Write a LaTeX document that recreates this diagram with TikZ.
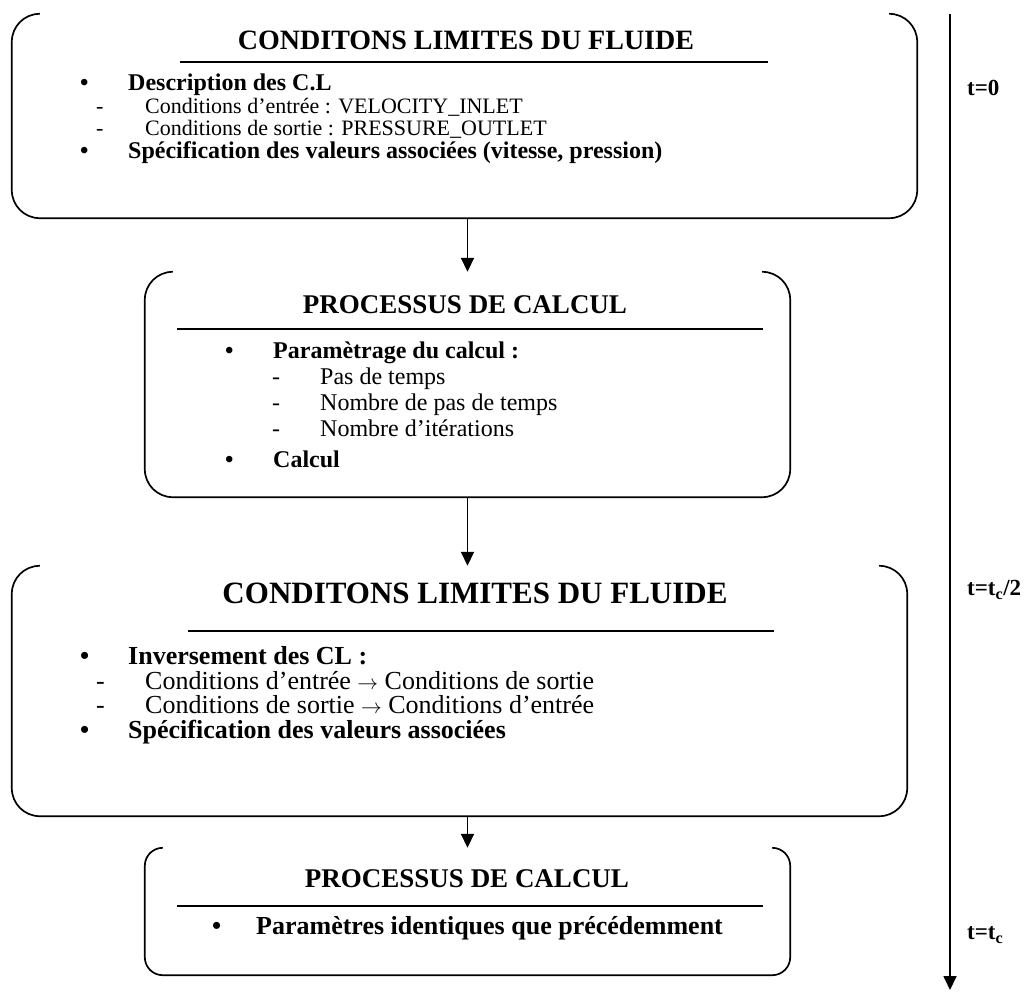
\documentclass[tikz,border=0pt]{standalone}
\usepackage{fontspec}
\setmainfont{Liberation Serif}
\usetikzlibrary{arrows.meta, positioning}

\newcommand{\bracketbox}[2]{%
  \draw[boxline, rounded corners=#2] ([xshift=#2]#1.north west) -- (#1.north west)
    -- (#1.south west) -- (#1.south east) -- (#1.north east) -- ([xshift=-#2]#1.north east);}
\newcommand{\fleche}{{\fontsize{20}{20}\selectfont$\rightarrow$}}

\begin{document}
\begin{tikzpicture}[x=1pt, y=-1pt,
    frame/.style={draw=none, inner sep=0pt, minimum width=#1},
    boxline/.style={line width=1.7pt},
    rule/.style={line width=1.7pt},
    flow/.style={line width=1.7pt, -{Triangle[length=14pt, width=13pt]}},
    ttl/.style={inner sep=0pt, font=\fontsize{#1}{#1}\selectfont\bfseries},
    itm/.style={anchor=west, inner sep=0pt, text height=0.62em, text depth=0.16em,
        font=\fontsize{#1}{#1}\selectfont\bfseries},
    sub/.style={anchor=west, inner sep=0pt, text height=0.62em, text depth=0.16em,
        font=\fontsize{#1}{#1}\selectfont},
    tlab/.style={anchor=west, inner sep=0pt, font=\fontsize{23}{23}\selectfont\bfseries}
]
    \useasboundingbox (0,0) rectangle (1035,992);

    % boites
    \node[frame=905pt, minimum height=204pt] (cl1) at (464.5,116) {};
    \node[frame=645pt, minimum height=225pt] (pc1) at (467.5,384.5) {};
    \node[frame=895pt, minimum height=250pt] (cl2) at (459.5,691) {};
    \node[frame=645pt, minimum height=127pt] (pc2) at (467.5,911.5) {};
    \bracketbox{cl1}{28pt}
    \bracketbox{pc1}{28pt}
    \bracketbox{cl2}{28pt}
    \bracketbox{pc2}{18pt}

    % conditions limites (1)
    \node[ttl=28] (cl1t) at (466,40) {CONDITONS LIMITES DU FLUIDE};
    \draw[rule] (180,62) -- (768,62);
    \node[itm=24] (cl1b1) at (80,88) {•};
    \node[itm=24] (cl1a) at (128,88) {Description des C.L};
    \node[sub=22] (cl1d1) at (96,111) {-};
    \node[sub=22] (cl1c) at (145,111) {Conditions d’entrée : VELOCITY\_INLET};
    \node[sub=22] (cl1d2) at (96,133) {-};
    \node[sub=22] (cl1e) at (145,133) {Conditions de sortie : PRESSURE\_OUTLET};
    \node[itm=24] (cl1b2) at (80,156) {•};
    \node[itm=24] (cl1f) at (128,156) {Spécification des valeurs associées (vitesse, pression)};

    % processus de calcul (1)
    \node[ttl=27] (pc1t) at (465,305) {PROCESSUS DE CALCUL};
    \draw[rule] (177,329) -- (763,329);
    \node[itm=24] (pc1b1) at (225,356) {•};
    \node[itm=24] (pc1a) at (273,356) {Paramètrage du calcul :};
    \node[sub=24] (pc1d1) at (272,382) {-};
    \node[sub=24] (pc1c) at (320,382) {Pas de temps};
    \node[sub=24] (pc1d2) at (272,408) {-};
    \node[sub=24] (pc1e) at (320,408) {Nombre de pas de temps};
    \node[sub=24] (pc1d3) at (272,434) {-};
    \node[sub=24] (pc1f) at (320,434) {Nombre d’itérations};
    \node[itm=24] (pc1b2) at (225,465) {•};
    \node[itm=24] (pc1g) at (273,465) {Calcul};

    % conditions limites (2)
    \node[ttl=31] (cl2t) at (475,593) {CONDITONS LIMITES DU FLUIDE};
    \draw[rule] (188,631) -- (774,631);
    \node[itm=26] (cl2b1) at (80,662) {•};
    \node[itm=26] (cl2a) at (128,662) {Inversement des CL :};
    \node[sub=26] (cl2d1) at (96,687) {-};
    \node[sub=26] (cl2c) at (145,687) {Conditions d’entrée \fleche{} Conditions de sortie};
    \node[sub=26] (cl2d2) at (96,711) {-};
    \node[sub=26] (cl2e) at (145,711) {Conditions de sortie \fleche{} Conditions d’entrée};
    \node[itm=26] (cl2b2) at (80,736) {•};
    \node[itm=26] (cl2f) at (128,736) {Spécification des valeurs associées};

    % processus de calcul (2)
    \node[ttl=27] (pc2t) at (467,879) {PROCESSUS DE CALCUL};
    \draw[rule] (177,906) -- (763,906);
    \node[itm=26] (pc2b1) at (212,932) {•};
    \node[itm=26] (pc2a) at (256,932) {Paramètres identiques que précédemment};

    % enchainement
    \draw[flow] (pc1.north |- cl1.south) -- (pc1.north);
    \draw[flow] (pc1.south) -- (pc1.south |- cl2.north);
    \draw[flow] (pc2.north |- cl2.south) -- (pc2.north);

    % axe du temps
    \coordinate (tdeb) at (950,14);
    \coordinate (tfin) at (950,990);
    \draw[flow] (tdeb) -- (tfin);
    \node[tlab] (t0) at (967,88) {t=0};
    \node[tlab] (t1) at (967,590) {t=t\textsubscript{c}/2};
    \node[tlab] (t2) at (967,935) {t=t\textsubscript{c}};
\end{tikzpicture}
\end{document}
